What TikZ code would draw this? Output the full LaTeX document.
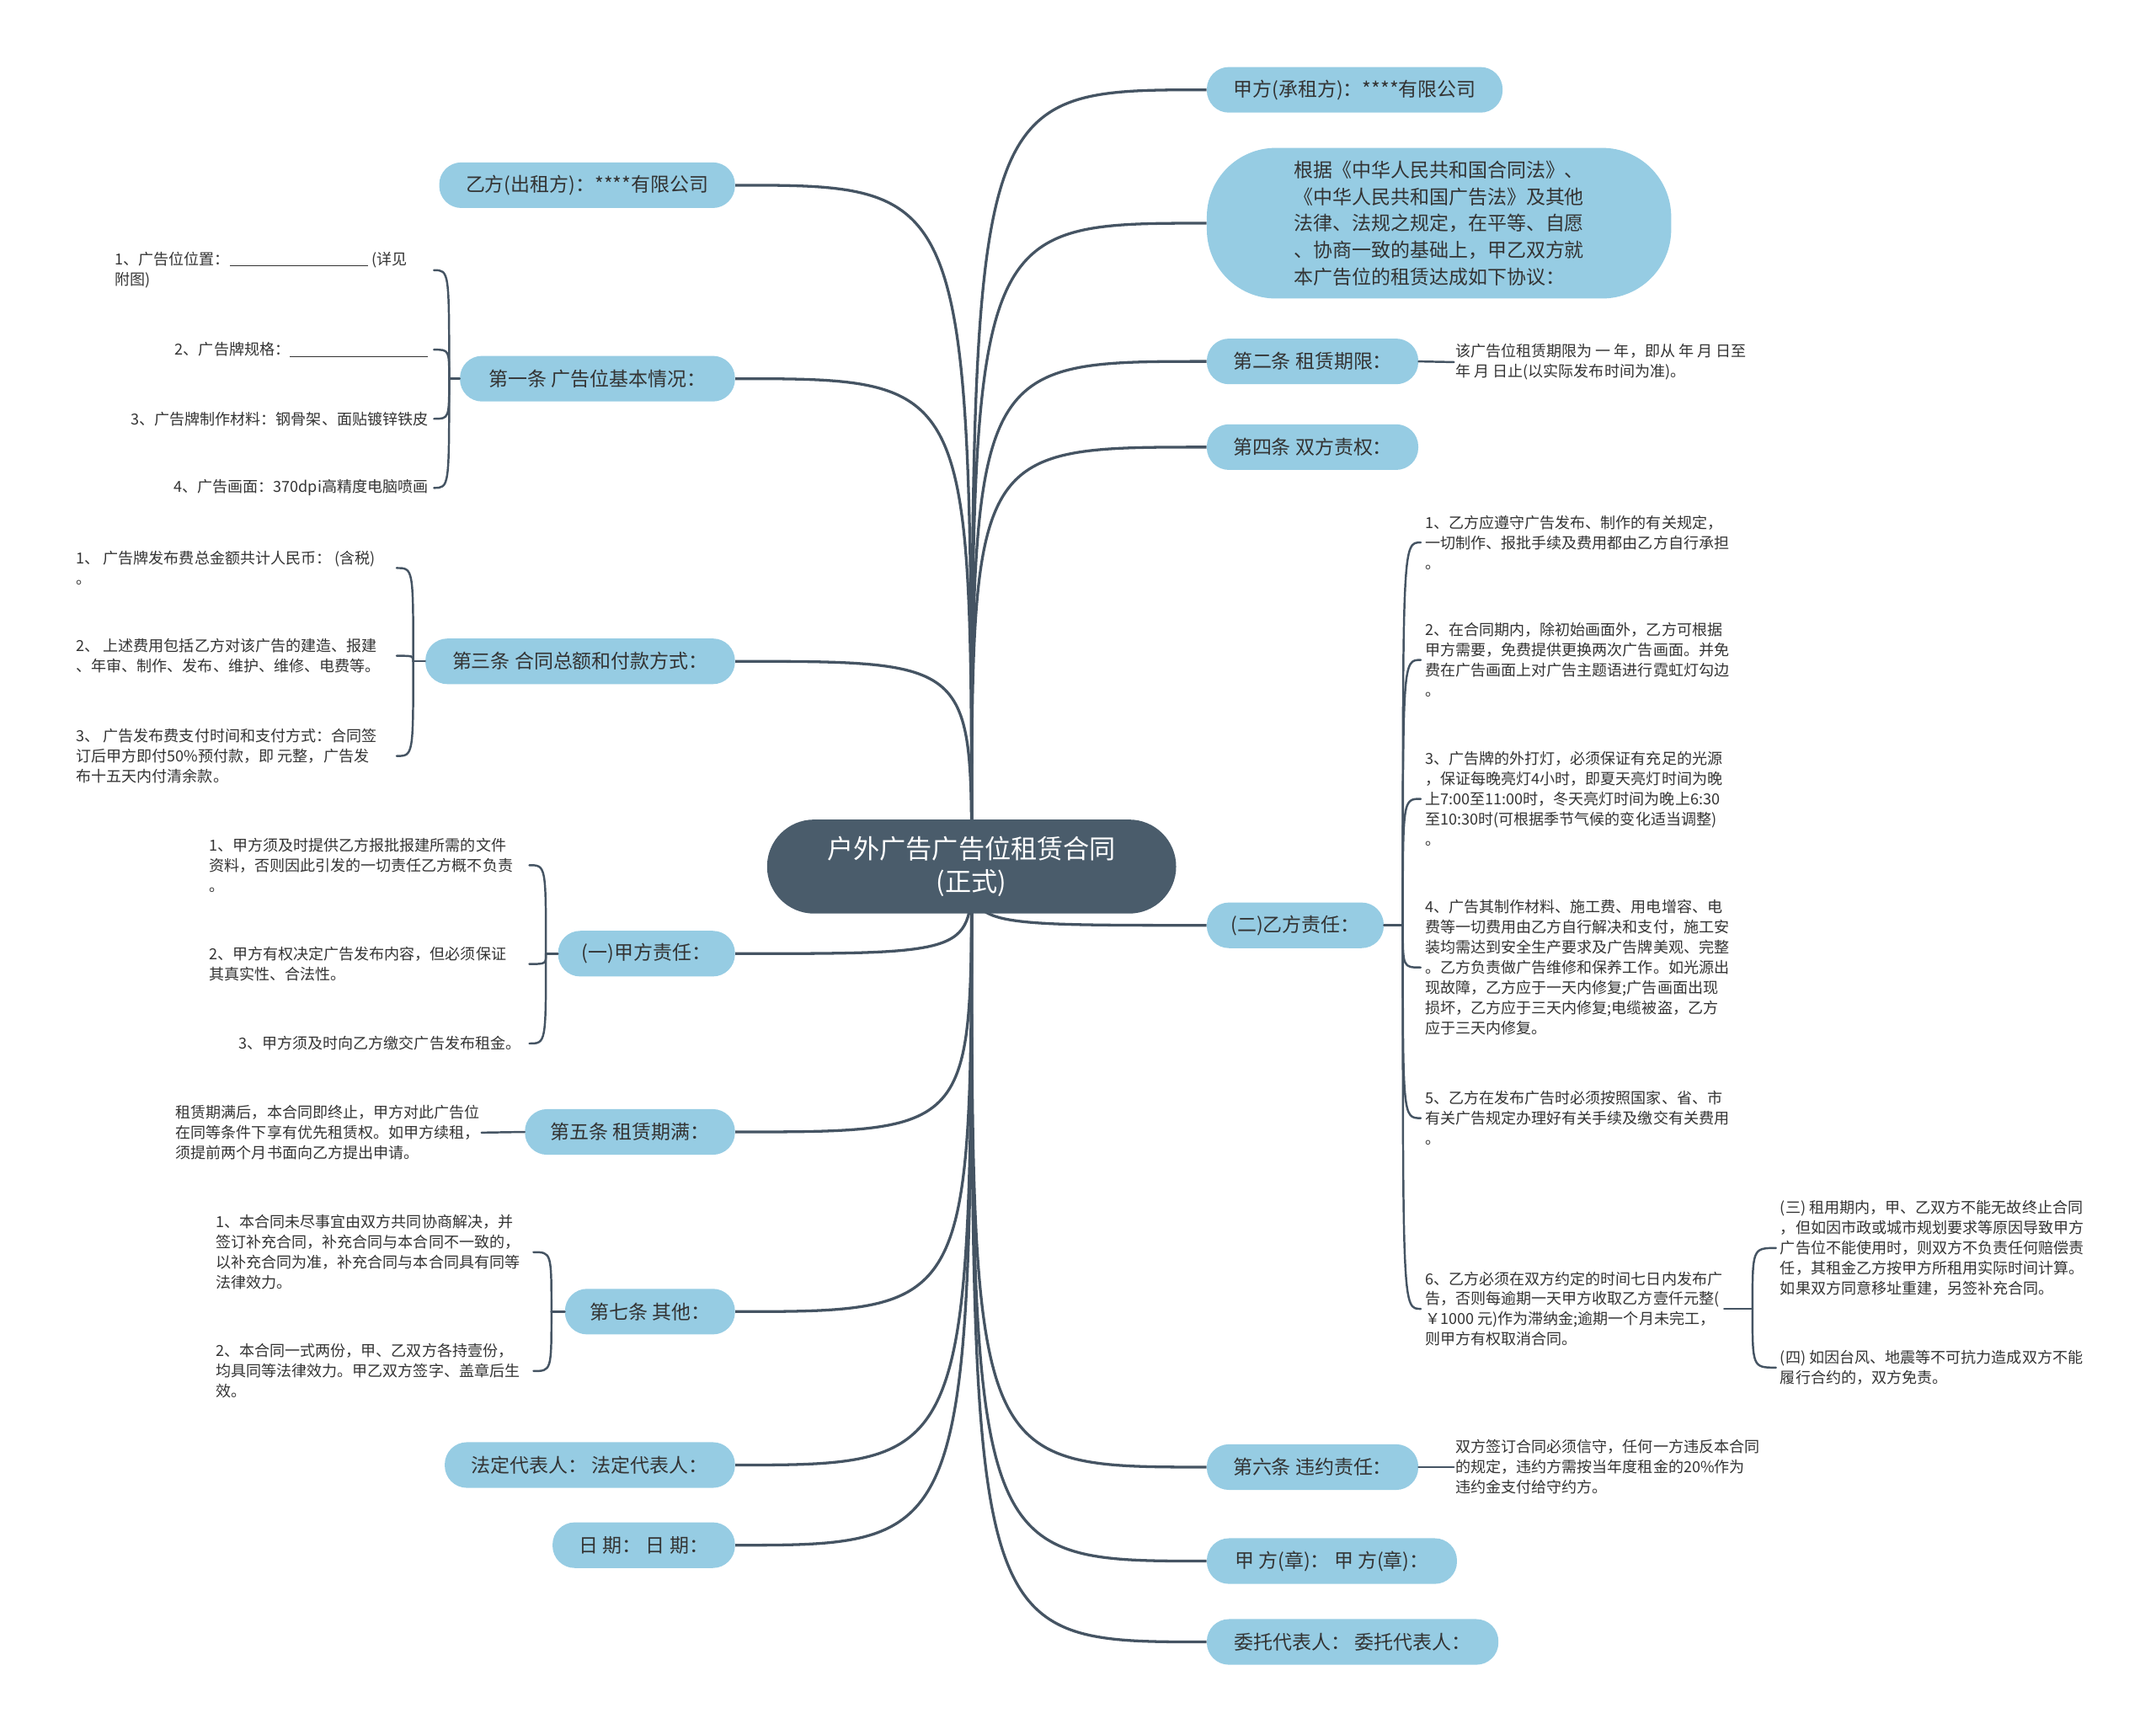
\documentclass[tikz,border=0pt]{standalone}
\usepackage{fontspec}
\setmainfont{Noto Sans CJK SC}
\usepackage{tikz}
\usetikzlibrary{backgrounds}
\definecolor{rootfill}{rgb}{0.29,0.36,0.42}
\definecolor{topicfill}{rgb}{0.59,0.80,0.89}
\definecolor{linecol}{rgb}{0.27,0.33,0.39}
\definecolor{txtcol}{rgb}{0.2,0.2,0.2}
\newcommand{\fillblank}{\rule[-1pt]{100pt}{0.6pt}}

\begin{document}
\begin{tikzpicture}[line cap=round,line join=round,x=1pt,y=-1pt,
  root/.style={fill=rootfill,text=white,rounded corners=34pt,minimum width=296pt,minimum height=68pt,align=center,inner sep=0pt,font=\fontsize{19}{24}\selectfont},
  topic/.style={fill=topicfill,text=txtcol,rounded corners=16pt,minimum height=33pt,inner xsep=10pt,font=\fontsize{14}{17}\selectfont},
  leaf/.style={text=txtcol,align=left,inner sep=1pt,font=\fontsize{11}{14.6}\selectfont},
  trunk/.style={draw=linecol,line width=2pt},
  hook/.style={draw=linecol,line width=1.5pt}]
    \useasboundingbox (0,0) rectangle (1560,1247);
    \node[root] (root) at (703,627) {户外广告广告位租赁合同\\(正式)};
    % right side
    \node[topic,anchor=west,minimum width=214pt] (jia) at (873,65) {甲方(承租方)：****有限公司};
    \node[topic,anchor=west,minimum width=336pt,minimum height=109pt,rounded corners=50pt,align=left,font=\fontsize{14}{19.3}\selectfont] (basis) at (873,161.5) {根据《中华人民共和国合同法》、\\《中华人民共和国广告法》及其他\\法律、法规之规定，在平等、自愿\\、协商一致的基础上，甲乙双方就\\本广告位的租赁达成如下协议：};
    \node[topic,anchor=west,minimum width=153pt] (s2) at (873,261.5) {第二条 租赁期限：};
    \node[topic,anchor=west,minimum width=153pt] (s4) at (873,323.5) {第四条 双方责权：};
    \node[topic,anchor=west,minimum width=128pt] (y2) at (873,669.5) {(二)乙方责任：};
    \node[topic,anchor=west,minimum width=153pt] (s6) at (873,1061.5) {第六条 违约责任：};
    \node[topic,anchor=west,minimum width=181pt] (jiaz) at (873,1129.5) {甲 方(章)： 甲 方(章)：};
    \node[topic,anchor=west,minimum width=211pt] (wt) at (873,1188) {委托代表人： 委托代表人：};
    % left side
    \node[topic,anchor=east,minimum width=214pt] (yi) at (532,134) {乙方(出租方)：****有限公司};
    \node[topic,anchor=east,minimum width=199pt] (s1) at (532,274) {第一条 广告位基本情况：};
    \node[topic,anchor=east,minimum width=224pt] (s3) at (532,478.5) {第三条 合同总额和付款方式：};
    \node[topic,anchor=east,minimum width=128pt] (y1) at (532,690) {(一)甲方责任：};
    \node[topic,anchor=east,minimum width=152pt] (s5) at (532,819) {第五条 租赁期满：};
    \node[topic,anchor=east,minimum width=123pt] (s7) at (532,949) {第七条 其他：};
    \node[topic,anchor=east,minimum width=210pt] (fd) at (532,1060) {法定代表人： 法定代表人：};
    \node[topic,anchor=east,minimum width=132pt] (rq) at (532,1118) {日 期： 日 期：};
    \begin{scope}[on background layer]
    \foreach \n in {jia,basis,s2,s4,y2,s6,jiaz,wt}
    \draw[trunk] (root.center) .. controls (root.center |- \n.west) .. (\n.west);
    \foreach \n in {yi,s1,s3,y1,s5,s7,fd,rq}
    \draw[trunk] (root.center) .. controls (root.center |- \n.east) .. (\n.east);
    \end{scope}
    % leaves, right
    \node[leaf,anchor=west] (s2a) at (1052,262) {该广告位租赁期限为 一 年，即从 年 月 日至\\年 月 日止(以实际发布时间为准)。};
    \draw[hook] (s2.east) -- (s2a.west);
    \node[leaf,anchor=west] (s6a) at (1052,1061.5) {双方签订合同必须信守，任何一方违反本合同\\的规定，违约方需按当年度租金的20\%作为\\违约金支付给守约方。};
    \draw[hook] (s6.east) -- (s6a.west);
    \node[leaf,anchor=west] (y2a) at (1030,392.5) {1、乙方应遵守广告发布、制作的有关规定，\\一切制作、报批手续及费用都由乙方自行承担\\。};
    \node[leaf,anchor=west] (y2b) at (1030,477.5) {2、在合同期内，除初始画面外，乙方可根据\\甲方需要，免费提供更换两次广告画面。并免\\费在广告画面上对广告主题语进行霓虹灯勾边\\。};
    \node[leaf,anchor=west] (y2c) at (1030,578) {3、广告牌的外打灯，必须保证有充足的光源\\，保证每晚亮灯4小时，即夏天亮灯时间为晚\\上7:00至11:00时，冬天亮灯时间为晚上6:30\\至10:30时(可根据季节气候的变化适当调整)\\。};
    \node[leaf,anchor=west] (y2d) at (1030,700) {4、广告其制作材料、施工费、用电增容、电\\费等一切费用由乙方自行解决和支付，施工安\\装均需达到安全生产要求及广告牌美观、完整\\。乙方负责做广告维修和保养工作。如光源出\\现故障，乙方应于一天内修复;广告画面出现\\损坏，乙方应于三天内修复;电缆被盗，乙方\\应于三天内修复。};
    \node[leaf,anchor=west] (y2e) at (1030,809) {5、乙方在发布广告时必须按照国家、省、市\\有关广告规定办理好有关手续及缴交有关费用\\。};
    \node[leaf,anchor=west] (y2f) at (1030,947) {6、乙方必须在双方约定的时间七日内发布广\\告，否则每逾期一天甲方收取乙方壹仟元整(\\￥1000 元)作为滞纳金;逾期一个月未完工，\\则甲方有权取消合同。};
    \coordinate (t2) at (1015,669.5);
    \coordinate (e2) at (1028,669.5);
    \draw[hook] (y2.east) -- (t2);
    \foreach \c in {y2a,y2b,y2c,y2d,y2e,y2f}
    \draw[hook] (t2) .. controls (t2 |- \c.west) .. (e2 |- \c.west);
    \node[leaf,anchor=west] (y2g) at (1287,903) {(三) 租用期内，甲、乙双方不能无故终止合同\\，但如因市政或城市规划要求等原因导致甲方\\广告位不能使用时，则双方不负责任何赔偿责\\任，其租金乙方按甲方所租用实际时间计算。\\如果双方同意移址重建，另签补充合同。};
    \node[leaf,anchor=west] (y2h) at (1287,989.5) {(四) 如因台风、地震等不可抗力造成双方不能\\履行合约的，双方免责。};
    \coordinate (t6) at (1268,947);
    \coordinate (e6) at (1285,947);
    \draw[hook] (y2f.east) -- (t6);
    \foreach \c in {y2g,y2h}
    \draw[hook] (t6) .. controls (t6 |- \c.west) .. (e6 |- \c.west);
    % leaves, left
    \node[leaf,anchor=west] (s1a) at (82,195.5) {1、广告位位置：\fillblank{} (详见\\附图)};
    \node[leaf,anchor=east] (s1b) at (311,253) {2、广告牌规格：\fillblank};
    \node[leaf,anchor=east] (s1c) at (311,303) {3、广告牌制作材料：钢骨架、面贴镀锌铁皮};
    \node[leaf,anchor=east] (s1d) at (311,353) {4、广告画面：370dpi高精度电脑喷画};
    \coordinate (t1) at (325,274);
    \coordinate (e1) at (314,274);
    \draw[hook] (s1.west) -- (t1);
    \foreach \c in {s1a,s1b,s1c,s1d}
    \draw[hook] (t1) .. controls (t1 |- \c.west) .. (e1 |- \c.west);
    \node[leaf,anchor=west] (s3a) at (54,411) {1、 广告牌发布费总金额共计人民币： (含税)\\。};
    \node[leaf,anchor=west] (s3b) at (54,474.5) {2、 上述费用包括乙方对该广告的建造、报建\\、年审、制作、发布、维护、维修、电费等。};
    \node[leaf,anchor=west] (s3c) at (54,547) {3、 广告发布费支付时间和支付方式：合同签\\订后甲方即付50\%预付款，即 元整，广告发\\布十五天内付清余款。};
    \coordinate (t3) at (299,478.5);
    \coordinate (e3) at (287,478.5);
    \draw[hook] (s3.west) -- (t3);
    \foreach \c in {s3a,s3b,s3c}
    \draw[hook] (t3) .. controls (t3 |- \c.west) .. (e3 |- \c.west);
    \node[leaf,anchor=west] (y1a) at (150,626) {1、甲方须及时提供乙方报批报建所需的文件\\资料，否则因此引发的一切责任乙方概不负责\\。};
    \node[leaf,anchor=west] (y1b) at (150,697.5) {2、甲方有权决定广告发布内容，但必须保证\\其真实性、合法性。};
    \node[leaf,anchor=east] (y1c) at (378,755) {3、甲方须及时向乙方缴交广告发布租金。};
    \coordinate (t4) at (395,690);
    \coordinate (e4) at (383,690);
    \draw[hook] (y1.west) -- (t4);
    \foreach \c in {y1a,y1b,y1c}
    \draw[hook] (t4) .. controls (t4 |- \c.west) .. (e4 |- \c.west);
    \node[leaf,anchor=west] (s5a) at (126,819.5) {租赁期满后，本合同即终止，甲方对此广告位\\在同等条件下享有优先租赁权。如甲方续租，\\须提前两个月书面向乙方提出申请。};
    \draw[hook] (s5.west) -- (s5a.east);
    \node[leaf,anchor=west] (s7a) at (155,906) {1、本合同未尽事宜由双方共同协商解决，并\\签订补充合同，补充合同与本合同不一致的，\\以补充合同为准，补充合同与本合同具有同等\\法律效力。};
    \node[leaf,anchor=west] (s7b) at (155,992) {2、本合同一式两份，甲、乙双方各持壹份，\\均具同等法律效力。甲乙双方签字、盖章后生\\效。};
    \coordinate (t7) at (399,949);
    \coordinate (e7) at (386,949);
    \draw[hook] (s7.west) -- (t7);
    \foreach \c in {s7a,s7b}
    \draw[hook] (t7) .. controls (t7 |- \c.west) .. (e7 |- \c.west);
\end{tikzpicture}
\end{document}
